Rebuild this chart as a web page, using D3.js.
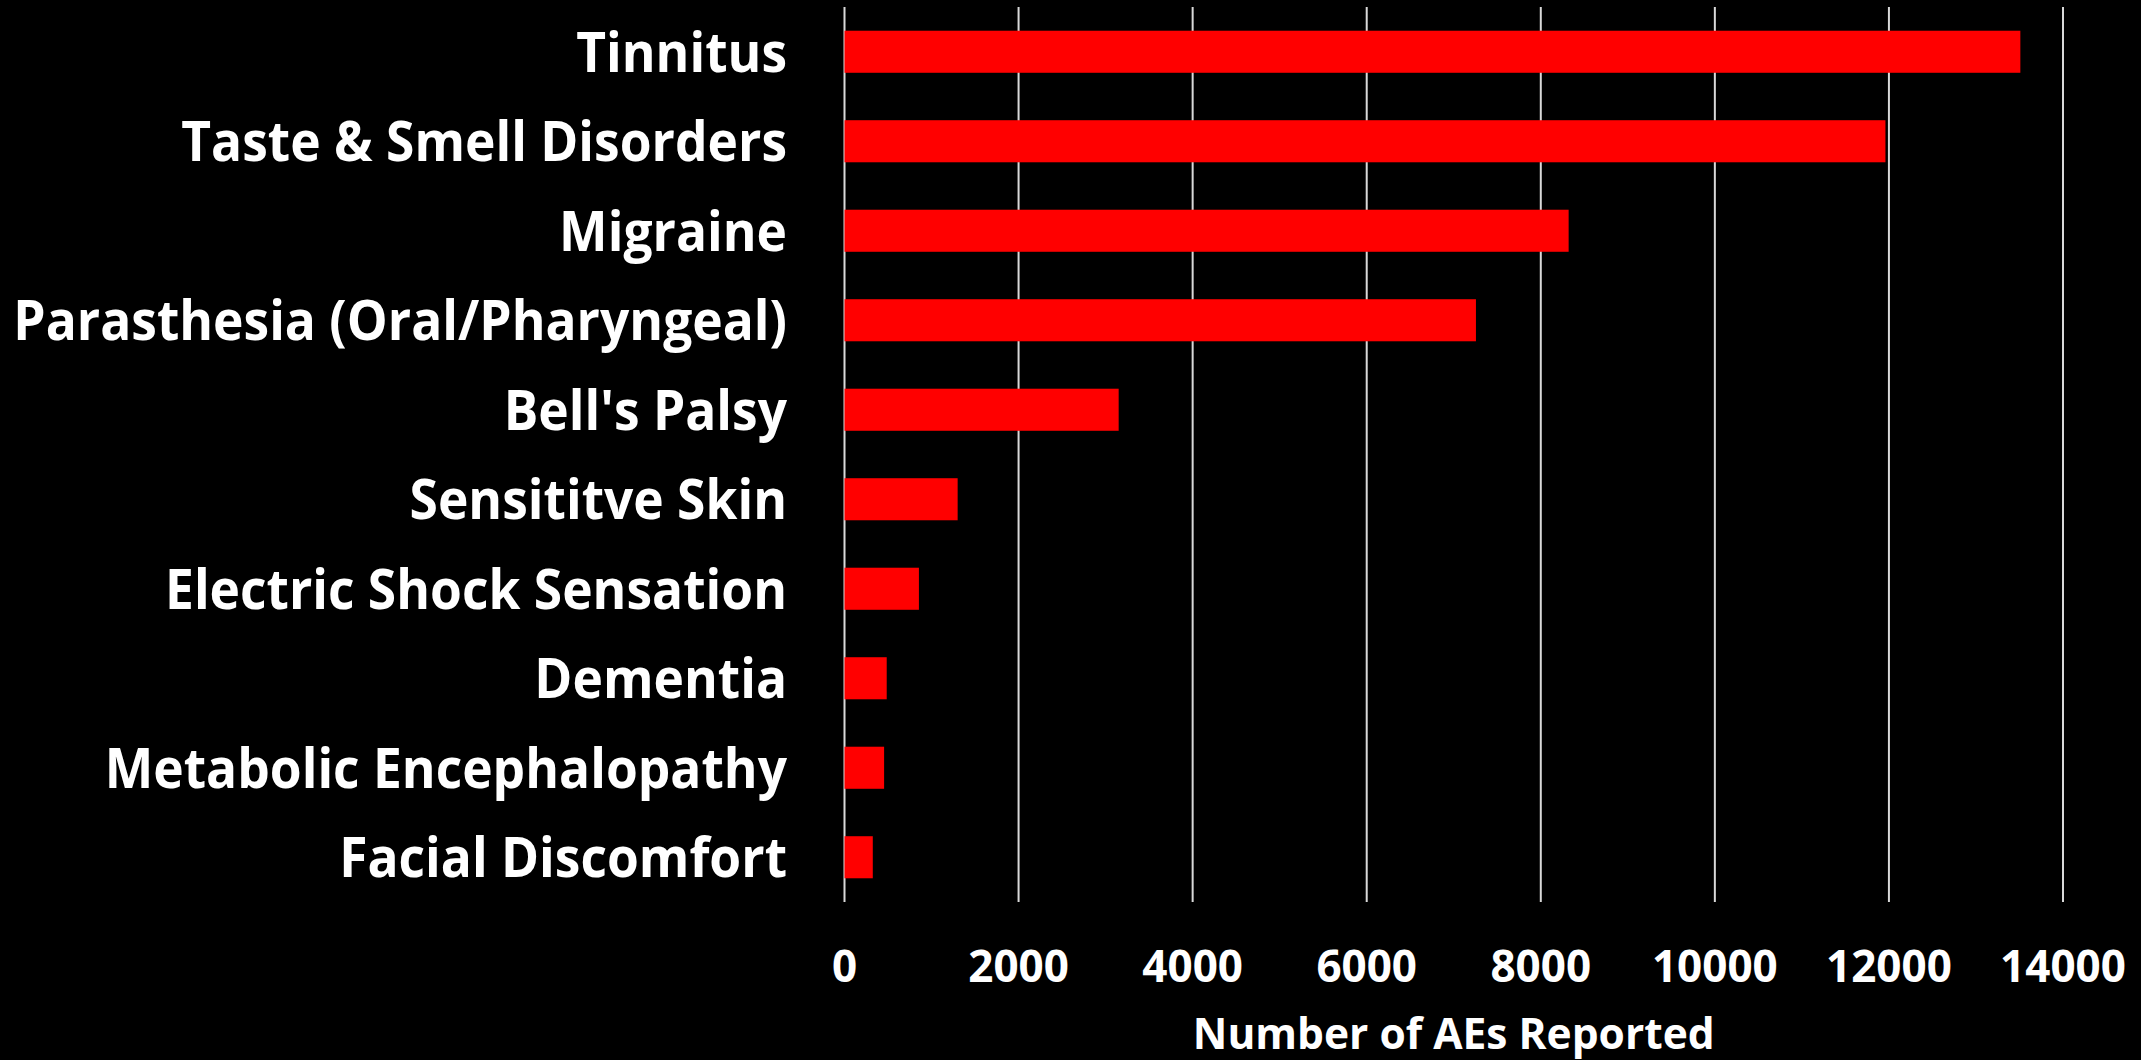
<!DOCTYPE html>
<html>
<head>
<meta charset="utf-8">
<script src="https://cdn.jsdelivr.net/npm/d3@7"></script>
<style>
  html, body { margin: 0; padding: 0; background: #000; }
  svg { display: block; }
  text { font-family: "Open Sans", sans-serif; font-weight: bold; fill: #fff; }
</style>
</head>
<body>
<script>
var categories = ["Tinnitus", "Taste & Smell Disorders", "Migraine", "Parasthesia (Oral/Pharyngeal)",
  "Bell's Palsy", "Sensititve Skin", "Electric Shock Sensation", "Dementia",
  "Metabolic Encephalopathy", "Facial Discomfort"];
var reports = [13510, 11960, 8320, 7255, 3150, 1300, 855, 485, 455, 325];
var xTicks = [0, 2000, 4000, 6000, 8000, 10000, 12000, 14000];
var xTitle = "Number of AEs Reported";

var w = 2141;
var h = 1060;
var plotLeft = 844.5, plotRight = 2063, plotTop = 7, plotBottom = 902;

var svg = d3.select("body").append("svg")
  .attr("width", w)
  .attr("height", h);

svg.append("rect").attr("width", w).attr("height", h).attr("fill", "#000");

var x = d3.scaleLinear().domain([0, 14000]).range([plotLeft, plotRight]);
var y = d3.scaleBand().domain(categories).range([plotTop, plotBottom])
  .paddingInner(0.53).paddingOuter(0.265);

// gridlines
svg.selectAll("line.grid")
  .data(xTicks)
  .enter().append("line")
  .attr("class", "grid")
  .attr("x1", function(d) { return x(d); })
  .attr("x2", function(d) { return x(d); })
  .attr("y1", plotTop)
  .attr("y2", plotBottom)
  .style("stroke", "#d9d9d9")
  .style("stroke-width", 2);

// bars
svg.selectAll("rect.bar")
  .data(reports)
  .enter().append("rect")
  .attr("class", "bar")
  .attr("x", x(0))
  .attr("y", function(d, i) { return y(categories[i]); })
  .attr("width", function(d) { return x(d) - x(0); })
  .attr("height", y.bandwidth())
  .attr("fill", "#ff0000");

// category labels (the original font is narrower than Open Sans, so squeeze a bit)
svg.selectAll("text.cat")
  .data(categories)
  .enter().append("text")
  .attr("class", "cat")
  .attr("transform", function(d) {
    return "translate(787," + (y(d) + y.bandwidth() / 2) + ") scale(0.92,1)";
  })
  .attr("dy", "0.357em")
  .attr("text-anchor", "end")
  .style("font-size", "56px")
  .text(function(d) { return d; });

// tick labels
svg.selectAll("text.tick")
  .data(xTicks)
  .enter().append("text")
  .attr("class", "tick")
  .attr("x", function(d) { return x(d); })
  .attr("y", 982)
  .attr("text-anchor", "middle")
  .style("font-size", "44px")
  .text(function(d) { return d; });

svg.append("text")
  .attr("x", (plotLeft + plotRight) / 2)
  .attr("y", 1049)
  .attr("text-anchor", "middle")
  .style("font-size", "42.5px")
  .text(xTitle);
</script>
</body>
</html>
